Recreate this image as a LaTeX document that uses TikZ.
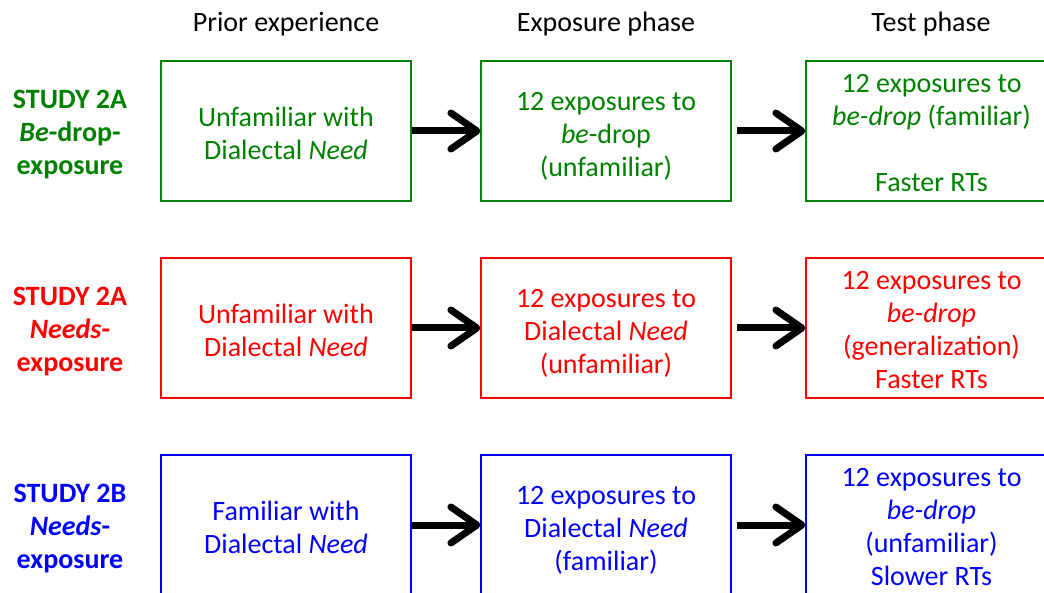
\documentclass[tikz,border=0pt]{standalone}
\usepackage{fontspec}
\setmainfont{Carlito}
\usetikzlibrary{arrows.meta}
\definecolor{cgreen}{RGB}{0,128,0}
\definecolor{cred}{RGB}{255,0,0}
\definecolor{cblue}{RGB}{0,0,255}
\tikzset{
  txt/.style={align=center, font=\fontsize{28}{33}\selectfont, inner sep=0pt, yshift=-2.5pt},
  midtxt/.style={txt, yshift=-2.5pt},
  box/.style={draw, line width=1.2pt, minimum height=140pt, inner sep=0pt},
  boxA/.style={box, minimum width=250pt},
  boxB/.style={box, minimum width=251pt},
  lab/.style={txt, font=\fontsize{28}{33}\selectfont\bfseries},
  conn/.style={line width=7pt, -{Straight Barb[length=26pt, width=36pt, round]}},
}
\begin{document}
\begin{tikzpicture}[x=1pt, y=-1pt]
\useasboundingbox (0,0) rectangle (1044,593);
\clip (0,0) rectangle (1044,593);
% headers
\node[txt] (h1) at (286,22) {Prior experience};
\node[txt] (h2) at (606,22) {Exposure phase};
\node[txt] (h3) at (931,22) {Test phase};
% boxes
\foreach \r/\y/\c in {1/131/cgreen, 2/328/cred, 3/525/cblue}{
  \node[boxA, draw=\c] (a\r) at (286,\y) {};
  \node[boxA, draw=\c] (b\r) at (606,\y) {};
  \node[boxB, draw=\c] (c\r) at (931.5,\y) {};
}
% row 1
\node[lab, text=cgreen] (l1) at (70,132) {STUDY 2A\\\textit{Be}-drop-\\exposure};
\node[txt, text=cgreen] (a1t) at (a1) {Unfamiliar with\\Dialectal \textit{Need}};
\node[midtxt, text=cgreen] (b1t) at (b1) {12 exposures to\\\textit{be}-drop\\(unfamiliar)};
\node[txt, text=cgreen] (c1t) at (c1) {12 exposures to\\\textit{be-drop} (familiar)\\[33pt]Faster RTs};
% row 2
\node[lab, text=cred] (l2) at (70,329) {STUDY 2A\\\textit{Needs}-\\exposure};
\node[txt, text=cred] (a2t) at (a2) {Unfamiliar with\\Dialectal \textit{Need}};
\node[midtxt, text=cred] (b2t) at (b2) {12 exposures to\\Dialectal \textit{Need}\\(unfamiliar)};
\node[txt, text=cred] (c2t) at (c2) {12 exposures to\\\textit{be-drop}\\(generalization)\\Faster RTs};
% row 3
\node[lab, text=cblue] (l3) at (70,526) {STUDY 2B\\\textit{Needs}-\\exposure};
\node[txt, text=cblue] (a3t) at (a3) {Familiar with\\Dialectal \textit{Need}};
\node[midtxt, text=cblue] (b3t) at (b3) {12 exposures to\\Dialectal \textit{Need}\\(familiar)};
\node[txt, text=cblue] (c3t) at (c3) {12 exposures to\\\textit{be-drop}\\(unfamiliar)\\Slower RTs};
% arrows
\foreach \r in {1,2,3}{
  \draw[conn] (a\r.east) -- (b\r.west);
  \draw[conn, shorten <=5pt] (b\r.east) -- (c\r.west);
}
\end{tikzpicture}
\end{document}
